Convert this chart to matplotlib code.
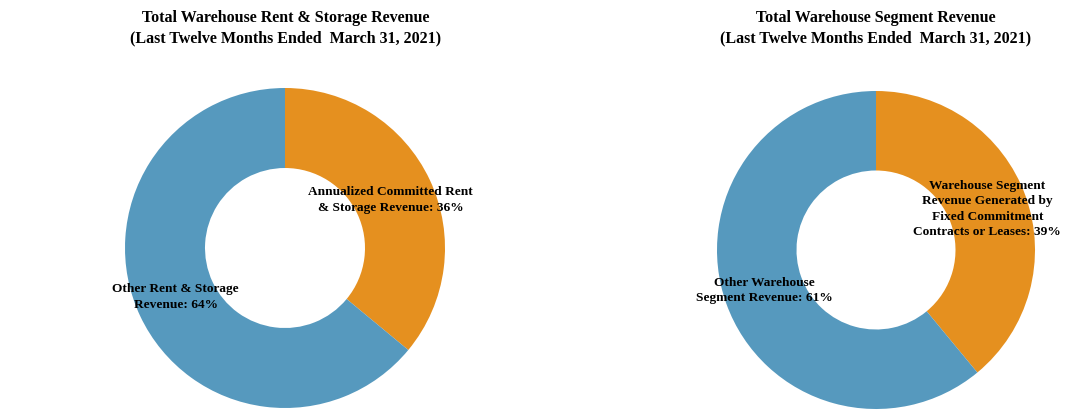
import matplotlib.pyplot as plt

# data
left_title = "Total Warehouse Rent & Storage Revenue\n(Last Twelve Months Ended  March 31, 2021)"
left_labels = ["Annualized Committed Rent\n& Storage Revenue: 36%", "Other Rent & Storage\nRevenue: 64%"]
left_values = [36, 64]

right_title = "Total Warehouse Segment Revenue\n(Last Twelve Months Ended  March 31, 2021)"
right_labels = ["Warehouse Segment\nRevenue Generated by\nFixed Commitment\nContracts or Leases: 39%",
                "Other Warehouse\nSegment Revenue: 61%"]
right_values = [39, 61]

colors = ["#E5901F", "#5699BE"]

W, H = 1074, 418
fig = plt.figure(figsize=(W / 100, H / 100), dpi=100)
font = dict(family="Liberation Serif", fontweight="bold", color="black")


def donut(cx, cy, r, values, labels, label_pos, title, title_x):
    ax = fig.add_axes([(cx - r) / W, 1 - (cy + r) / H, 2 * r / W, 2 * r / H])
    ax.pie(values, colors=colors, startangle=90, counterclock=False, radius=1,
           wedgeprops=dict(width=0.5, edgecolor="none"))
    ax.set_xlim(-1, 1)
    ax.set_ylim(-1, 1)
    ax.set_aspect("equal")
    ax.axis("off")
    for lab, (x, y) in zip(labels, label_pos):
        ax.text(x, y, lab, ha="center", va="center", fontsize=9.6,
                linespacing=1.38, **font)
    fig.text(title_x / W, 1 - 28 / H, title, ha="center", va="center",
             fontsize=11.5, linespacing=1.4, **font)


donut(285, 248, 160, left_values, left_labels, [(0.66, 0.30), (-0.684, -0.306)], left_title, 286)
donut(876, 250, 159, right_values, right_labels, [(0.70, 0.258), (-0.70, -0.255)], right_title, 876)

fig.savefig("out.png", dpi=100)
